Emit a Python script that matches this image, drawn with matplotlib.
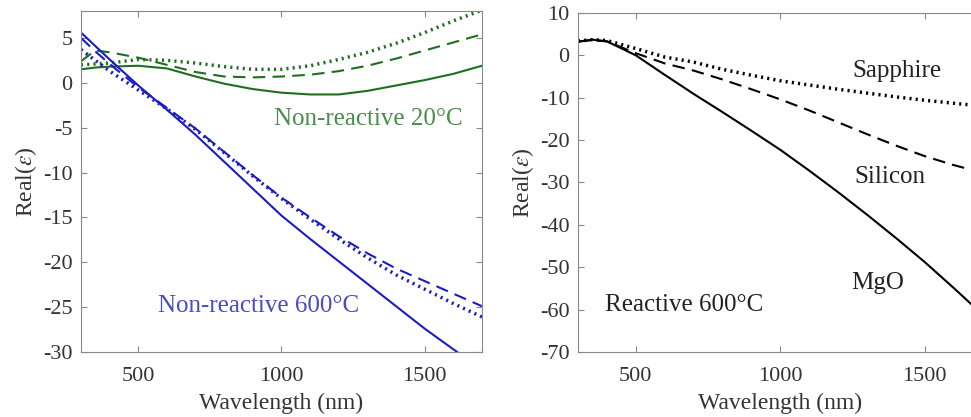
import numpy as np
import matplotlib
matplotlib.use('Agg')
import matplotlib.pyplot as plt

plt.rcParams['font.family'] = ['Liberation Serif', 'DejaVu Serif']
plt.rcParams['mathtext.fontset'] = 'stix'
plt.rcParams['axes.unicode_minus'] = False

# wavelength grid (nm)
wl = [300, 350, 400, 500, 600, 700, 800, 900, 1000, 1100, 1200, 1300, 1400, 1500, 1600, 1700]

# left panel: non-reactive films, Real(eps)
green_solid = [1.5, 1.7, 1.8, 1.9, 1.6, 0.7, -0.1, -0.7, -1.1, -1.3, -1.3, -0.9, -0.3, 0.3, 1.0, 1.9]
green_dash = [2.4, 3.6, 3.4, 2.8, 2.0, 1.2, 0.7, 0.6, 0.7, 0.9, 1.3, 1.9, 2.7, 3.6, 4.5, 5.4]
green_dot = [2.0, 2.1, 2.2, 2.6, 2.5, 2.2, 1.8, 1.5, 1.5, 1.9, 2.6, 3.4, 4.4, 5.6, 6.9, 8.1]
blue_solid = [5.6, 4.1, 2.6, -0.3, -3.0, -5.8, -8.8, -11.8, -14.8, -17.4, -19.9, -22.4, -24.9, -27.4, -29.7, -32.0]
blue_dash = [5.0, 3.5, 2.1, -0.5, -2.8, -5.1, -7.7, -10.3, -12.8, -15.0, -17.1, -19.0, -20.7, -22.1, -23.5, -24.9]
blue_dot = [3.7, 2.5, 1.3, -0.8, -2.9, -5.2, -7.8, -10.4, -12.9, -15.2, -17.4, -19.5, -21.4, -23.0, -24.6, -26.1]

# right panel: reactive 600C on different substrates
mgo = [3.2, 3.7, 3.3, 0.0, -4.6, -9.1, -13.4, -17.8, -22.3, -27.2, -32.3, -37.6, -43.1, -48.8, -54.9, -61.2]
silicon = [3.3, 3.6, 3.3, 0.5, -1.9, -3.6, -5.7, -8.0, -10.4, -13.0, -15.8, -18.6, -21.3, -23.8, -25.9, -27.7]
sapphire = [3.4, 3.7, 3.5, 1.6, -0.4, -1.6, -3.3, -4.7, -6.0, -7.0, -8.0, -8.9, -9.8, -10.6, -11.3, -12.0]

green = '#1f6e1f'
blue = '#1c1cc4'
dash = (0, (6, 3.5))
dot = (0, (0.6, 1.2))

fig = plt.figure(figsize=(9.71, 4.17), dpi=100)
ax1 = fig.add_axes([0.0834, 0.1559, 0.413, 0.8177])
ax2 = fig.add_axes([0.5953, 0.1559, 0.4167, 0.813])

ax1.plot(wl, green_solid, color=green, lw=1.5)
ax1.plot(wl, green_dash, color=green, lw=1.5, linestyle=dash)
ax1.plot(wl, green_dot, color=green, lw=2.5, linestyle=dot)
ax1.plot(wl, blue_solid, color=blue, lw=1.5)
ax1.plot(wl, blue_dash, color=blue, lw=1.5, linestyle=dash)
ax1.plot(wl, blue_dot, color=blue, lw=2.5, linestyle=dot)
ax1.set_xlim(300, 1700)
ax1.set_ylim(-30, 8)
ax1.set_yticks(np.arange(-30, 6, 5))
ax1.text(1303, -4.0, 'Non-reactive 20°C', color='#4a8c4a', fontsize=18, ha='center', va='center')
ax1.text(919, -24.9, 'Non-reactive 600°C', color='#4a4ac4', fontsize=18, ha='center', va='center')

ax2.plot(wl, mgo, color='k', lw=1.5)
ax2.plot(wl, silicon, color='k', lw=1.5, linestyle=dash)
ax2.plot(wl, sapphire, color='k', lw=2.5, linestyle=dot)
ax2.set_xlim(300, 1700)
ax2.set_ylim(-70, 10)
ax2.set_yticks(np.arange(-70, 11, 10))
ax2.text(1404, -3.7, 'Sapphire', color='#222222', fontsize=18, ha='center', va='center')
ax2.text(1380, -28.7, 'Silicon', color='#222222', fontsize=18, ha='center', va='center')
ax2.text(1338, -53.7, 'MgO', color='#222222', fontsize=18, ha='center', va='center')
ax2.text(667, -58.9, 'Reactive 600°C', color='#222222', fontsize=18, ha='center', va='center')

for ax in (ax1, ax2):
    ax.set_xticks([500, 1000, 1500])
    ax.tick_params(direction='in', top=True, right=True, labelsize=16,
                   labelcolor='#333333', color='#888888', length=4)
    ax.tick_params(axis='x', pad=11)
    ax.tick_params(axis='y', pad=6)
    for s in ax.spines.values():
        s.set_color('#888888')
    ax.set_xlabel('Wavelength (nm)', fontsize=17, color='#333333', labelpad=5)
    ax.set_ylabel(r'Real($\epsilon$)', fontsize=17, color='#333333', labelpad=3)

fig.savefig('out.png', dpi=100)
